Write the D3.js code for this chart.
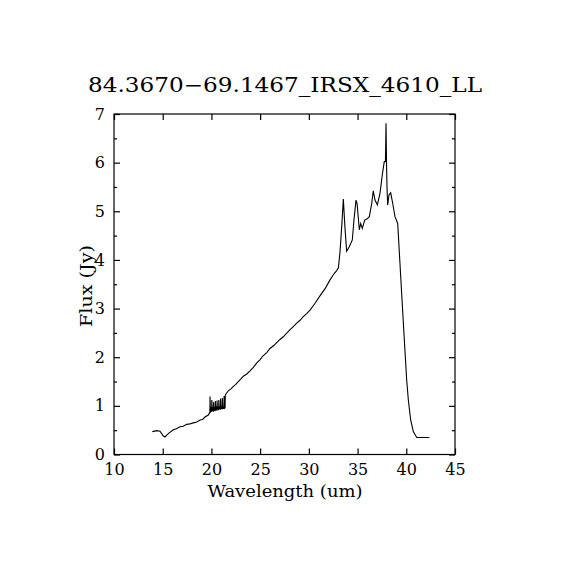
<!DOCTYPE html>
<html>
<head>
<meta charset="utf-8">
<script src="https://cdn.jsdelivr.net/npm/d3@7"></script>
<style>
  body { margin: 0; background: #fff; }
  text { font-family: "DejaVu Serif", serif; fill: #000; }
</style>
</head>
<body>
<script>
// spectrum: wavelength (um) and flux (Jy)
const wave = [
  13.93, 14.38, 14.72, 15.06, 15.23, 15.57, 16.09, 16.4, 16.77, 17.1, 17.46, 17.8, 18.14, 18.5, 18.83, 19.1, 19.34, 19.68,
  19.78, 19.84, 19.86, 19.9, 19.96, 20.02, 20.04, 20.08, 20.14, 20.2, 20.22, 20.26, 20.32, 20.38, 20.4,
  20.44, 20.5, 20.56, 20.58, 20.62, 20.68, 20.74, 20.76, 20.8, 20.86, 20.92, 20.94, 20.98, 21.04, 21.1,
  21.12, 21.16, 21.22, 21.28, 21.3, 21.34, 21.4, 21.42, 21.47,
  21.73, 22.0, 22.25, 22.5, 22.76, 23.0, 23.27, 23.6, 23.96, 24.3, 24.64, 25.0, 25.3, 25.7, 26.01, 26.4, 26.7, 27.0,
  27.38, 27.7, 28.05, 28.4, 28.75, 29.1, 29.4, 29.8, 30.12,
  30.6, 31.14, 31.7, 32.17, 32.6, 32.86, 33.03, 33.2, 33.37, 33.54, 33.7, 33.88, 34.15, 34.46,
  34.63, 34.84, 34.95, 35.18, 35.32, 35.49, 35.73, 35.95, 36.21, 36.45, 36.61, 36.79, 37.03,
  37.3, 37.54, 37.74, 37.86, 37.92, 37.97, 38.02, 38.09, 38.23, 38.4, 38.61, 38.84, 39.12,
  39.35, 39.7, 40.04, 40.21, 40.45, 40.72, 41.07, 42.36
];
const flux = [
  0.47, 0.49, 0.48, 0.38, 0.36, 0.43, 0.51, 0.53, 0.57, 0.58, 0.62, 0.63, 0.65, 0.67, 0.71, 0.72, 0.77, 0.81,
  0.85, 0.86, 1.19, 0.86, 0.97, 0.88, 1.12, 0.89, 0.98, 0.88, 1.08, 0.90, 0.98, 0.89, 1.10,
  0.91, 0.99, 0.90, 1.11, 0.92, 0.98, 0.91, 1.12, 0.93, 0.99, 0.92, 1.15, 0.93, 0.99, 0.93,
  1.16, 0.94, 0.99, 0.94, 1.20, 0.95, 0.96, 1.21, 1.24,
  1.31, 1.35, 1.40, 1.44, 1.50, 1.55, 1.61, 1.65, 1.72, 1.79, 1.88, 1.95, 2.03, 2.10, 2.18, 2.24, 2.30, 2.36,
  2.42, 2.49, 2.56, 2.63, 2.70, 2.76, 2.83, 2.90, 2.97,
  3.10, 3.26, 3.42, 3.59, 3.72, 3.78, 3.84, 4.17, 4.68, 5.25, 4.68, 4.18, 4.27, 4.41,
  4.82, 5.23, 5.16, 4.62, 4.75, 4.65, 4.82, 4.84, 4.89, 5.16, 5.42, 5.23, 5.13,
  5.37, 5.75, 6.02, 6.02, 6.81, 6.02, 5.50, 5.13, 5.34, 5.38, 5.16, 4.89, 4.75,
  3.93, 2.70, 1.53, 1.12, 0.71, 0.47, 0.35, 0.35
];
const title = "84.3670\u221269.1467_IRSX_4610_LL";
const xTicks = [10, 15, 20, 25, 30, 35, 40, 45];
const yTicks = [0, 1, 2, 3, 4, 5, 6, 7];
const yMinor = [0.5, 1.5, 2.5, 3.5, 4.5, 5.5, 6.5];

const W = 570, H = 570;
const box = { left: 114, right: 455, top: 114, bottom: 454.5 };

const svg = d3.select("body").append("svg")
  .attr("width", W)
  .attr("height", H);

const x = d3.scaleLinear().domain([10, 45]).range([box.left, box.right]);
const y = d3.scaleLinear().domain([0, 7]).range([box.bottom, box.top]);

// frame
svg.append("rect")
  .attr("x", box.left).attr("y", box.top)
  .attr("width", box.right - box.left).attr("height", box.bottom - box.top)
  .attr("fill", "none").attr("stroke", "#000").attr("stroke-width", 1.2);

// inward ticks on all four sides, labels only bottom/left
const bottomAxis = svg.append("g")
  .attr("transform", `translate(0,${box.bottom})`)
  .call(d3.axisBottom(x).tickValues(xTicks).tickSize(-6).tickFormat(d3.format("d")));
svg.append("g")
  .attr("transform", `translate(0,${box.top})`)
  .call(d3.axisTop(x).tickValues(xTicks).tickSize(-6).tickFormat(""));

svg.append("g")
  .attr("transform", `translate(${box.left},0)`)
  .call(d3.axisLeft(y).tickValues(yTicks).tickSize(-6).tickPadding(9).tickFormat(d3.format("d")));
svg.append("g")
  .attr("transform", `translate(${box.right},0)`)
  .call(d3.axisRight(y).tickValues(yTicks).tickSize(-6).tickFormat(""));
svg.append("g")
  .attr("transform", `translate(${box.left},0)`)
  .call(d3.axisLeft(y).tickValues(yMinor).tickSize(-3).tickFormat(""));
svg.append("g")
  .attr("transform", `translate(${box.right},0)`)
  .call(d3.axisRight(y).tickValues(yMinor).tickSize(-3).tickFormat(""));

svg.selectAll(".domain").remove();
svg.selectAll(".tick line").attr("stroke", "#000").attr("stroke-width", 1.2);
svg.selectAll(".tick text")
  .style("font-family", "DejaVu Serif, serif")
  .style("font-size", "16px")
  .attr("fill", "#000");
bottomAxis.selectAll(".tick text").attr("dy", "0.71em").attr("y", 9);

// spectrum
const pts = wave.map((w, i) => [w, flux[i]]);
svg.append("path")
  .datum(pts)
  .attr("fill", "none")
  .attr("stroke", "#000")
  .attr("stroke-width", 1.1)
  .attr("d", d3.line().x(d => x(d[0])).y(d => y(d[1])));

// texts
svg.append("text")
  .attr("x", 285).attr("y", 92)
  .attr("text-anchor", "middle")
  .attr("textLength", 394)
  .attr("lengthAdjust", "spacingAndGlyphs")
  .style("font-size", "20px")
  .text(title);

svg.append("text")
  .attr("x", 285).attr("y", 497)
  .attr("text-anchor", "middle")
  .attr("textLength", 155)
  .attr("lengthAdjust", "spacingAndGlyphs")
  .style("font-size", "16px")
  .text("Wavelength (um)");

svg.append("text")
  .attr("transform", "translate(92,286) rotate(-90)")
  .attr("text-anchor", "middle")
  .attr("textLength", 82)
  .attr("lengthAdjust", "spacingAndGlyphs")
  .style("font-size", "16px")
  .text("Flux (Jy)");
</script>
</body>
</html>
